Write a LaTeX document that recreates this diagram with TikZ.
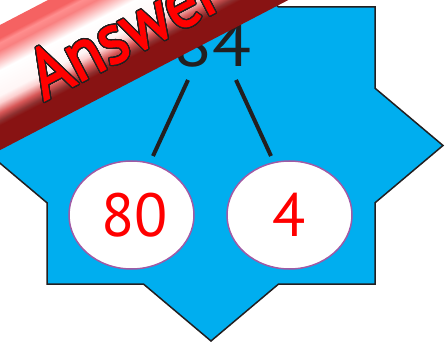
\documentclass[tikz,border=0pt]{standalone}
\usepackage{fontspec}
\setmainfont{PT Sans}
\newfontfamily\ansfont[FakeBold=2.2]{PT Sans}
\usepackage{contour}
\contournumber{32}
\contourlength{1.3pt}
\definecolor{ink}{HTML}{231F20}
\definecolor{starfill}{HTML}{00AEEF}
\definecolor{ovalline}{HTML}{A05AA5}
\definecolor{rdark}{HTML}{881313}
\definecolor{rdgray}{HTML}{8E3030}
\definecolor{rmid}{HTML}{D85858}
\definecolor{rpink}{HTML}{FCD0D0}
\definecolor{rwhite}{HTML}{FFF6F6}
\definecolor{rlight}{HTML}{F98080}
\definecolor{rhigh}{HTML}{FF8E8E}
\definecolor{rtop}{HTML}{F56262}
\pgfdeclareverticalshading{ribbonshade}{100bp}{color(0bp)=(rdark); color(25bp)=(rdark); color(35bp)=(rdark); color(37bp)=(rdgray); color(40bp)=(rmid); color(44bp)=(rpink); color(47bp)=(rwhite); color(57bp)=(white); color(65bp)=(rlight); color(68bp)=(rhigh); color(70bp)=(rtop); color(75bp)=(rtop); color(100bp)=(rtop)}
\tikzset{
  starline/.style={draw=ink, line width=1.5pt, fill=starfill, line join=miter},
  stem/.style={draw=ink, line width=4pt},
  oval/.style={ellipse, draw=ovalline, line width=1.5pt, fill=white, minimum width=125pt, minimum height=108pt, inner sep=0pt, text=red, font=\fontsize{61}{61}\selectfont},
}
\usetikzlibrary{shapes.geometric}
\begin{document}
\begin{tikzpicture}[x=1pt,y=-1pt]
\useasboundingbox (0,0) rectangle (445,342);
\clip (0,0) rectangle (445,342);
\fill[white] (0,0) rectangle (445,342);
\path[starline] (211,-50) -- (278.6,7) -- (375,7) -- (375,88.2) -- (443,145.5) -- (375,202.8) -- (375,284) -- (278.6,284) -- (211,341) -- (143.4,284) -- (47,284) -- (47,202.8) -- (-21,145.5) -- (47,88.2) -- (47,7) -- (143.4,7) -- cycle;
\node[text=ink, inner sep=0pt, font=\fontsize{64}{64}\selectfont, xscale=1.12] (top) at (212.5,44.5) {84};
\node[oval] (e1) at (131.5,215) {\hspace*{6pt}80};
\node[oval] (e2) at (289.5,215) {4};
\coordinate (a1) at (188,80);
\coordinate (b1) at (153,156);
\coordinate (a2) at (236,80);
\coordinate (b2) at (271,156);
\draw[stem] (a1) -- (b1);
\draw[stem] (a2) -- (b2);
\begin{scope}[transform canvas={rotate around={27.5:(100,35.5)}}]
\shade[shading=ribbonshade] (-200,-20) rectangle (400,91);
\end{scope}
\node[rotate=27.5, anchor=base west, inner sep=0pt, text=red, font=\ansfont\fontsize{71}{71}\selectfont, xscale=0.92] (ans) at (44,101) {\contour{ink}{Answer}};
\end{tikzpicture}
\end{document}
